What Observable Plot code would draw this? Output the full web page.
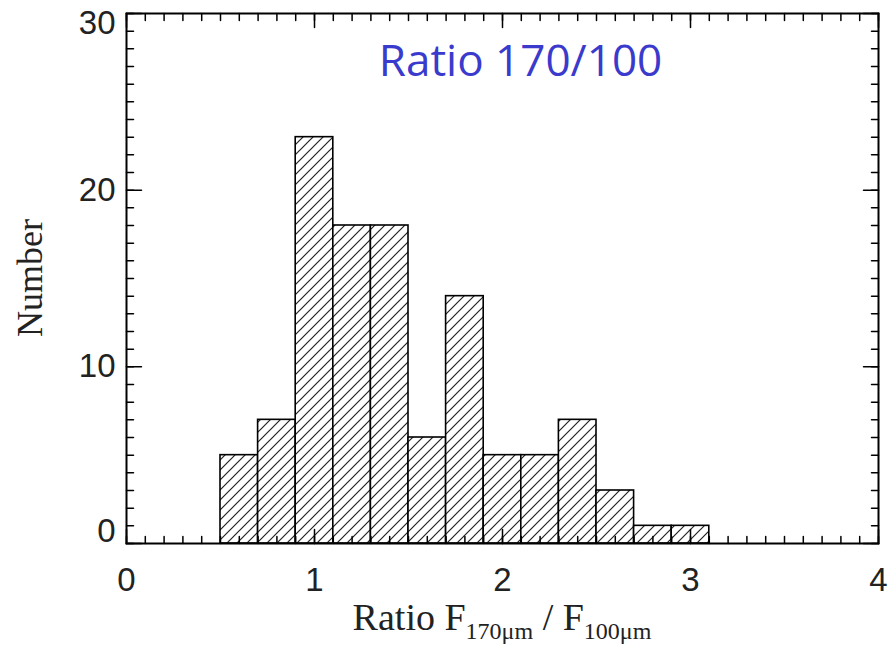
<!DOCTYPE html>
<html>
<head>
<meta charset="utf-8">
<script src="https://cdn.jsdelivr.net/npm/d3@7"></script>
<script src="https://cdn.jsdelivr.net/npm/@observablehq/plot@0.6"></script>
<style>
  html, body { margin: 0; padding: 0; background: #fff; }
  #chart svg { display: block; }
</style>
</head>
<body>
<div id="chart"></div>
<script>
// Histogram data: bin edges and counts (Ratio F170um / F100um)
const binEdges = [0.5, 0.7, 0.9, 1.1, 1.3, 1.5, 1.7, 1.9, 2.1, 2.3, 2.5, 2.7, 2.9, 3.1];
const counts = [5, 7, 23, 18, 18, 6, 14, 5, 5, 7, 3, 1, 1];
const xMajorTicks = [0, 1, 2, 3, 4];
const yMajorTicks = [0, 10, 20, 30];
const xMinorTicks = d3.range(0, 41).map(i => i / 10);
const yMinorTicks = d3.range(0, 31);
const titleText = "Ratio 170/100";
const yLabelText = "Number";

const bins = counts.map((c, i) => ({x1: binEdges[i], x2: binEdges[i + 1], count: c}));

const tickFont = "'Liberation Sans', Arial, Helvetica, sans-serif";

// inward tick helper (vector marks anchored at the frame edges)
function ticks(values, channel, anchor, len) {
  const rotate = {bottom: 0, top: 180, left: 90, right: -90}[anchor];
  return Plot.vector(values, {
    [channel]: d => d,
    frameAnchor: anchor,
    length: len,
    rotate,
    anchor: "start",
    shape: "spike",
    r: 0,
    stroke: "#000",
    strokeWidth: 1.5
  });
}

const yLabelStyle = {anchor: "left", tickSize: 0, tickPadding: 11, label: null, tickFormat: d => String(d), fontSize: 33, fontFamily: tickFont, fill: "#222"};
const yMin = yMajorTicks[0], yMax = yMajorTicks[yMajorTicks.length - 1];

const plot = Plot.plot({
  width: 888,
  height: 650,
  marginLeft: 126,
  marginRight: 10,
  marginTop: 13,
  marginBottom: 107,
  style: {background: "#fff", color: "#000"},
  x: {domain: [0, 4], axis: null},
  y: {domain: [0, 30], axis: null},
  marks: [
    Plot.rectY(bins, {x1: "x1", x2: "x2", y: "count", fill: "url(#hatch)", stroke: "#000", strokeWidth: 1.6}),
    // minor ticks (inward)
    ticks(xMinorTicks, "x", "bottom", 7),
    ticks(xMinorTicks, "x", "top", 7),
    ticks(yMinorTicks, "y", "left", 7),
    ticks(yMinorTicks, "y", "right", 7),
    // major ticks (inward)
    ticks(xMajorTicks, "x", "bottom", 14),
    ticks(xMajorTicks, "x", "top", 14),
    ticks(yMajorTicks, "y", "left", 15),
    ticks(yMajorTicks, "y", "right", 15),
    // tick labels
    Plot.axisX(xMajorTicks, {anchor: "bottom", tickSize: 0, tickPadding: 24, label: null, tickFormat: d => String(d), fontSize: 33, fontFamily: tickFont, fill: "#222"}),
    Plot.axisY(yMajorTicks.filter(v => v !== yMin && v !== yMax), yLabelStyle),
    Plot.axisY([yMin], {...yLabelStyle, dy: -12}),
    Plot.axisY([yMax], {...yLabelStyle, dy: 10}),
    Plot.frame({stroke: "#000", strokeWidth: 2}),
    // title annotation
    Plot.text([titleText], {frameAnchor: "top", lineAnchor: "top", dx: 18, dy: 31, fontSize: 44, fontFamily: "'Open Sans', sans-serif", fill: "#3a3acc"})
  ]
});

const svg = d3.select(plot);
const defs = svg.insert("defs", ":first-child");
const pat = defs.append("pattern")
  .attr("id", "hatch")
  .attr("patternUnits", "userSpaceOnUse")
  .attr("width", 10)
  .attr("height", 10);
pat.append("rect").attr("width", 10).attr("height", 10).attr("fill", "#fff");
pat.append("path")
  .attr("d", "M-1,1 l2,-2 M0,10 l10,-10 M9,11 l2,-2")
  .attr("stroke", "#222")
  .attr("stroke-width", 1.2);

// axis titles
const xs = plot.scale("x"), ys = plot.scale("y");
const xMid = (xs.apply(0) + xs.apply(4)) / 2;
const yMid = (ys.apply(0) + ys.apply(30)) / 2;
const serif = "'Liberation Serif', 'Times New Roman', serif";

const xl = svg.append("text")
  .attr("x", xMid)
  .attr("y", 630)
  .attr("text-anchor", "middle")
  .attr("font-family", serif)
  .attr("font-size", 38)
  .attr("fill", "#222");
xl.append("tspan").text("Ratio F");
xl.append("tspan").attr("font-size", 24).attr("dy", 9).text("170μm");
xl.append("tspan").attr("dy", -9).text(" / F");
xl.append("tspan").attr("font-size", 24).attr("dy", 9).text("100μm");

svg.append("text")
  .attr("transform", `translate(42,${yMid}) rotate(-90)`)
  .attr("text-anchor", "middle")
  .attr("font-family", serif)
  .attr("font-size", 36)
  .attr("fill", "#222")
  .text(yLabelText);

document.getElementById("chart").appendChild(plot);
</script>
</body>
</html>
